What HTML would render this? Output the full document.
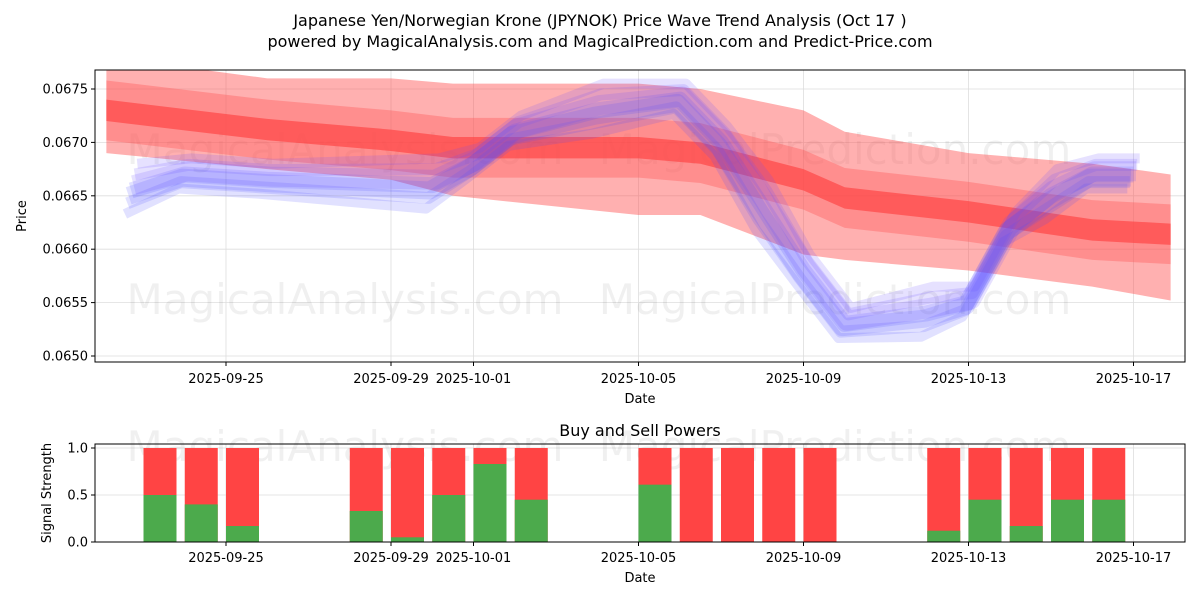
<!DOCTYPE html>
<html><head><meta charset="utf-8"><style>
body{margin:0;background:#fff;font-family:"DejaVu Sans","Liberation Sans",sans-serif}
svg text{font-family:"DejaVu Sans","Liberation Sans",sans-serif}
</style></head><body>
<svg id="c" width="1200" height="600" viewBox="0 0 1200 600"></svg>
<script>
// day offsets relative to 2025-09-25
const tickDays=[0,4,6,10,14,18,22];
const tickLabels=["2025-09-25","2025-09-29","2025-10-01","2025-10-05","2025-10-09","2025-10-13","2025-10-17"];
const priceTicks=[0.0650,0.0655,0.0660,0.0665,0.0670,0.0675];
const redDays=[-2.9,1,4,5.5,10,11.5,14,15,18,21,22.9];
const redVals=[0.0673,0.06712,0.06702,0.06695,0.06695,0.06690,0.06665,0.06648,0.06635,0.06618,0.06614];
const redUpper=[0.0678,0.0676,0.0676,0.06755,0.06755,0.0675,0.0673,0.0671,0.0669,0.0668,0.0667];
const redLower=[0.0669,0.06675,0.06665,0.0665,0.06632,0.06632,0.06595,0.0659,0.0658,0.06565,0.06552];
const blueDays=[-2.3,-1,1,5,6,7,9,11,12,13,14,15,17,18,19,20,21,22];
const blueVals=[0.06655,0.0667,0.06665,0.0666,0.0668,0.0671,0.0673,0.0674,0.0670,0.0664,0.0658,0.0653,0.0654,0.0655,0.0662,0.0665,0.0667,0.0667];
const barDays=[-2,-1,0,3,4,5,6,7,10,11,12,13,14,17,18,19,20,21];
const buyVals=[0.5,0.4,0.17,0.33,0.05,0.5,0.83,0.45,0.61,0,0,0,0,0.12,0.45,0.17,0.45,0.45];
const powTicks=[0,0.5,1.0];

const svg=document.getElementById('c');const NS='http://www.w3.org/2000/svg';
function el(t,a,p){const e=document.createElementNS(NS,t);for(const k in a)e.setAttribute(k,a[k]);(p||svg).appendChild(e);return e;}
const X=d=>226+d*41.25;
const Y=v=>356+(0.0650-v)/0.0005*53.4;
const Y2=v=>542-v*94;
const defs=el('defs',{});
const cp=el('clipPath',{id:'clip'},defs);el('rect',{x:95,y:70,width:1090,height:292},cp);
let t=el('text',{x:600,y:26,'text-anchor':'middle','font-size':16});t.textContent="Japanese Yen/Norwegian Krone (JPYNOK) Price Wave Trend Analysis (Oct 17 )";

t=el('text',{x:600,y:47,'text-anchor':'middle','font-size':16});t.textContent="powered by MagicalAnalysis.com and MagicalPrediction.com and Predict-Price.com";

const ax1=el('rect',{x:95,y:70,width:1090,height:292,fill:'#fff',stroke:'none'});

const ax2=el('rect',{x:95,y:444,width:1090,height:98,fill:'#fff',stroke:'none'});

tickDays.forEach((d,i)=>{
 el('line',{x1:X(d),x2:X(d),y1:70,y2:362,stroke:'#ddd','stroke-width':0.8});
 el('line',{x1:X(d),x2:X(d),y1:444,y2:542,stroke:'#ddd','stroke-width':0.8});
 el('line',{x1:X(d),x2:X(d),y1:362,y2:366,stroke:'#000'});
 el('line',{x1:X(d),x2:X(d),y1:542,y2:546,stroke:'#000'});
 let a=el('text',{x:X(d),y:383,'text-anchor':'middle','font-size':13});a.textContent=tickLabels[i];
 
 let b=el('text',{x:X(d),y:562,'text-anchor':'middle','font-size':13});b.textContent=tickLabels[i];
 
});
priceTicks.forEach(v=>{
 el('line',{x1:95,x2:1185,y1:Y(v),y2:Y(v),stroke:'#ddd','stroke-width':0.8});
 el('line',{x1:91,x2:95,y1:Y(v),y2:Y(v),stroke:'#000'});
 let a=el('text',{x:88,y:Y(v)+4.5,'text-anchor':'end','font-size':13});a.textContent=v.toFixed(4);
 
});
powTicks.forEach(v=>{
 el('line',{x1:95,x2:1185,y1:Y2(v),y2:Y2(v),stroke:'#ddd','stroke-width':0.8});
 el('line',{x1:91,x2:95,y1:Y2(v),y2:Y2(v),stroke:'#000'});
 let a=el('text',{x:88,y:Y2(v)+4.5,'text-anchor':'end','font-size':13});a.textContent=v.toFixed(1);
 
});
[[345,150],[835,150],[345,300],[835,300],[345,447],[835,447]].forEach(p=>{
 let w=el('text',{x:p[0],y:p[1]+14,'text-anchor':'middle','font-size':42,fill:'#000','fill-opacity':0.06});
 w.textContent=p[0]<600?"MagicalAnalysis.com":"MagicalPrediction.com";
 
});
const g1=el('g',{'clip-path':'url(#clip)'});
function band(up,lo,fill,op,name){
 let pts=redDays.map((d,i)=>X(d)+','+Y(up[i])).concat(redDays.map((d,i)=>X(d)+','+Y(lo[i])).reverse());
 const p=el('polygon',{points:pts.join(' '),fill:fill,'fill-opacity':op},g1);
 
}
band(redUpper,redLower,'#ff5050',0.45,'red-outer-band');
band(redVals.map(v=>v+0.00028),redVals.map(v=>v-0.00028),'#ff5050',0.35,'red-mid-band');
band(redVals.map(v=>v+0.0001),redVals.map(v=>v-0.0001),'#ff4040',0.65,'red-trend-line');
[[0,0,16],[0.00015,0.3,12],[-0.00012,-0.3,12],[0.00025,0.5,10],[-0.00022,-0.5,10],[0.00005,0.2,20],[-0.00005,-0.2,18]].forEach((o,k)=>{
 const pts=blueDays.map((d,i)=>{let off=o[0]*(i%3===0?1:0.6);return X(d+o[1]*0.3)+','+Y(blueVals[i]+off);}).join(' ');
 const l=el('polyline',{points:pts,fill:'none',stroke:k%2?'#6a50ff':'#5050ff','stroke-opacity':0.17,'stroke-width':o[2],'stroke-linejoin':'round'},g1);
 
});
barDays.forEach((d,i)=>{
 const x=X(d+0.4)-16.5;
 const r=el('rect',{x:x,y:Y2(1),width:33,height:Y2(0)-Y2(1),fill:'#ff4444'});
 
 const g=el('rect',{x:x,y:Y2(buyVals[i]),width:33,height:Y2(0)-Y2(buyVals[i]),fill:'#4caa4c'});
 
});
el('rect',{x:95,y:70,width:1090,height:292,fill:'none',stroke:'#000'});
el('rect',{x:95,y:444,width:1090,height:98,fill:'none',stroke:'#000'});
let l=el('text',{x:640,y:403,'text-anchor':'middle','font-size':13});l.textContent="Date";
l=el('text',{x:640,y:582,'text-anchor':'middle','font-size':13});l.textContent="Date";
l=el('text',{x:26,y:216,'text-anchor':'middle','font-size':13,transform:'rotate(-90 26 216)'});l.textContent="Price";
l=el('text',{x:51,y:493,'text-anchor':'middle','font-size':13,transform:'rotate(-90 51 493)'});l.textContent="Signal Strength";
l=el('text',{x:640,y:436,'text-anchor':'middle','font-size':16});l.textContent="Buy and Sell Powers";
</script>
</body></html>
